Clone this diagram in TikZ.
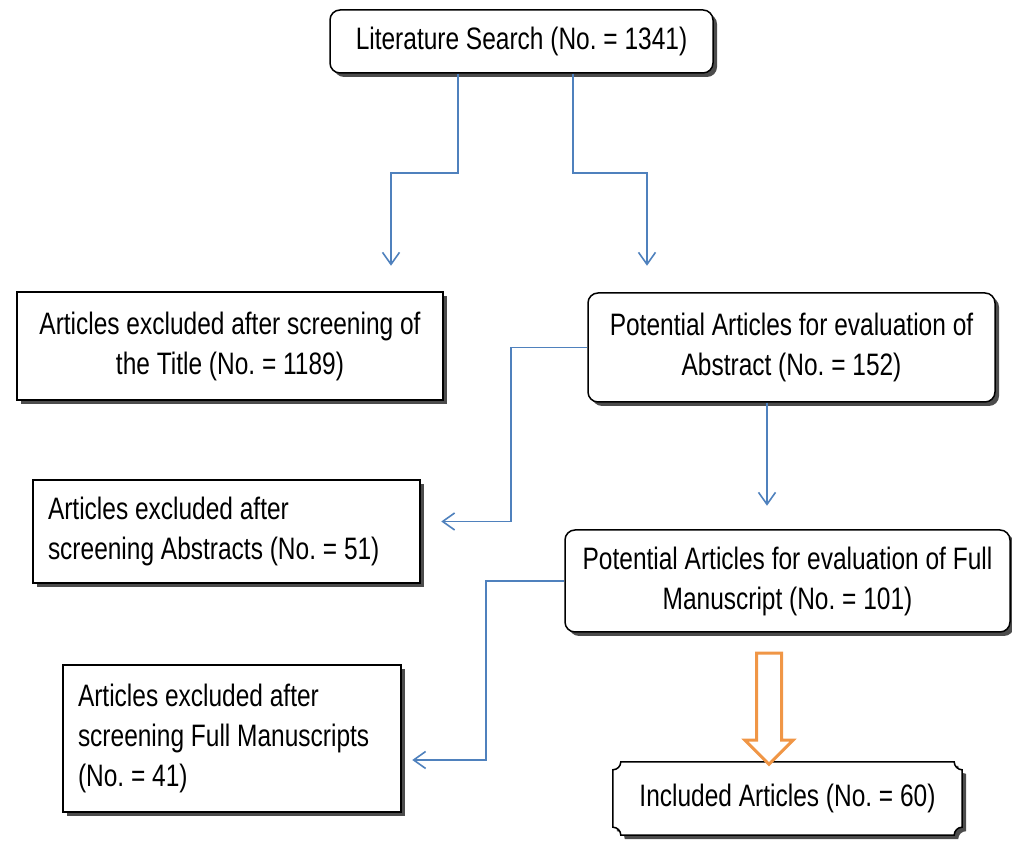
\documentclass[tikz,border=0pt]{standalone}
\usepackage{fontspec}
\setmainfont[FakeStretch=0.79]{Liberation Sans}
\usetikzlibrary{arrows.meta,shadows,shapes.arrows,calc,backgrounds}
\frenchspacing
\definecolor{flowblue}{RGB}{79,129,189}
\definecolor{flowor}{RGB}{240,150,70}
\tikzset{block/.style = {draw, fill=white, line width=1.5pt, rectangle, font=\fontsize{31}{40}\selectfont,
                         drop shadow={shadow xshift=4pt, shadow yshift=-4pt, fill=black!70, opacity=1}},
         rblock/.style = {block, rounded corners=10pt},
         lblock/.style = {block, align=left, execute at begin node={\spaceskip=0pt\xspaceskip=0pt}},
         flow/.style = {draw=flowblue, line width=1.6pt, -{Straight Barb[length=12pt,width=17pt,line width=1.6pt]}},
         bigarrow/.style = {draw=flowor, line width=3pt, fill=white, single arrow, shape border rotate=270,
                            minimum width=45pt, single arrow head extend=11.5pt, minimum height=111pt, inner sep=11pt}}
\newcommand{\plaquepath}[2]{($(#1.north west)+(#2,0)$) -- ($(#1.north east)+(-#2,0)$) arc[start angle=180,end angle=270,radius=#2]
  -- ($(#1.south east)+(0,#2)$) arc[start angle=90,end angle=180,radius=#2]
  -- ($(#1.south west)+(#2,0)$) arc[start angle=0,end angle=90,radius=#2]
  -- ($(#1.north west)+(0,-#2)$) arc[start angle=270,end angle=360,radius=#2] -- cycle}
\begin{document}
\begin{tikzpicture}[x=1pt,y=1pt]
        \useasboundingbox (0,0) rectangle (1012,842);
        \node[rblock, minimum width=383pt, minimum height=63pt](lit)at(521.5,800.5){Literature Search (No. = 1341)};
        \node[block, minimum width=426pt, minimum height=108pt, align=center](title)at(230,496){Articles excluded after screening of\\the Title (No. = 1189)};
        \node[rblock, minimum width=407pt, minimum height=109pt, align=center](abs)at(791.5,494.5){Potential Articles for evaluation of\\Abstract (No. = 152)};
        \node[lblock, minimum width=387pt, minimum height=103pt, text width=357pt](exabs)at(226.5,310.5){Articles excluded after\\screening Abstracts (No. = 51)};
        \node[rblock, minimum width=445pt, minimum height=102pt, align=center](full)at(787.5,261){Potential Articles for evaluation of Full\\Manuscript (No. = 101)};
        \node[lblock, minimum width=338pt, minimum height=147pt, text width=308pt](exfull)at(232,103.5){Articles excluded after\\screening Full Manuscripts\\(No. = 41)};
        \node[minimum width=349pt, minimum height=73pt, inner sep=0pt, font=\fontsize{31}{40}\selectfont](incl)at(787.5,43.5){Included Articles (No. = 60)};
        \begin{scope}[on background layer]
            \draw[line width=1.5pt, fill=white, drop shadow={shadow xshift=4pt, shadow yshift=-4pt, fill=black!70, opacity=1}] \plaquepath{incl}{8pt};
        \end{scope}
        \draw[flow]([xshift=-63.5pt]lit.south) |- ++(-67,-99) -- ++(0,-93);
        \draw[flow]([xshift=51.5pt]lit.south) |- ++(74,-99) -- ++(0,-93);
        \draw[flow](abs.west) -- ++(-76,0) |- ++(-70,-174);
        \draw[flow]([xshift=-24.5pt]abs.south) -- ++(0,-103);
        \draw[flow](full.west) -- ++(-78,0) |- ++(-74,-179);
        \node[bigarrow](arr)at(769,139.5){};
    \end{tikzpicture}
\end{document}
